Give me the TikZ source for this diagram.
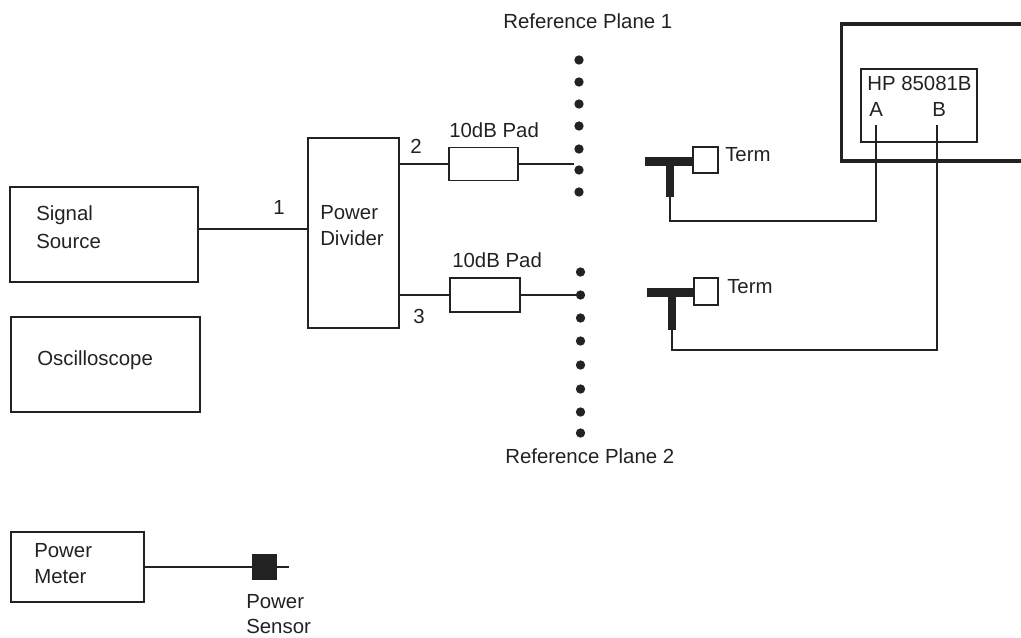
\documentclass[tikz,border=0pt]{standalone}
\usepackage{fontspec}
\setmainfont{Liberation Sans}
\usepackage{tikz}
\usepackage{xcolor}
\usetikzlibrary{positioning,calc}
\definecolor{ink}{HTML}{222222}
\tikzset{
    unit/.style 2 args={draw=ink, line width=1.4pt, minimum width=#1*0.75pt, minimum height=#2*0.75pt, inner sep=0pt},
    lbl/.style={text=ink, font=\fontsize{15.3}{17}\selectfont, inner sep=0pt, anchor=west},
    lead/.style={draw=ink, line width=1.4pt},
    cable/.style={draw=ink, line width=1.2pt},
    tee/.style={draw=ink, line width=6.5pt},
    refdot/.style={circle, fill=ink, minimum size=7pt, inner sep=0pt},
}

\begin{document}
\begin{tikzpicture}[x=0.75pt,y=-0.75pt]
    \useasboundingbox (0,0) rectangle (1021,637);

    % Left column of boxes
    \node[unit={188}{95}] (source) at (104,234.5) {};
    \node[lbl] (sourcea) at (36,215) {Signal};
    \node[lbl] (sourceb) at (36,241) {Source};
    \node[unit={189}{95}] (scope) at (105.5,364.5) {};
    \node[lbl] (scopea) at (37,360) {Oscilloscope};
    \node[unit={133}{70}] (meter) at (77.5,567) {};
    \node[lbl] (metera) at (34,551) {Power};
    \node[lbl] (meterb) at (34,577) {Meter};

    % Power sensor
    \node[fill=ink, minimum size=19pt, inner sep=0pt] (sensor) at (264.5,567) {};
    \coordinate (sensorend) at (289,567);
    \draw[lead] (meter.east) -- (sensor.west |- meter.east);
    \draw[lead] (sensor.east) -- (sensorend);
    \node[lbl] (sensora) at (246,602) {Power};
    \node[lbl] (sensorb) at (246,626) {Sensor};

    % Divider and pads
    \node[unit={91}{190}] (divider) at (353.5,233) {};
    \node[lbl] (dividera) at (320,213) {Power};
    \node[lbl] (dividerb) at (320,238) {Divider};
    \coordinate (dividerin) at (308,229);
    \draw[lead] (source.east |- dividerin) -- (dividerin);
    \node[lbl] (port1) at (273,207) {1};
    \node[lbl] (port2) at (410,146) {2};
    \node[lbl] (port3) at (413,316) {3};

    \node[unit={69}{33}] (pada) at (483.5,164) {};
    \node[lbl] (padatext) at (449,130) {10dB Pad};
    \node[unit={70}{34}] (padb) at (485,295) {};
    \node[lbl] (padbtext) at (452,260) {10dB Pad};
    \draw[lead] (divider.east |- pada.west) -- (pada.west);
    \draw[lead] (divider.east |- padb.west) -- (padb.west);

    % Reference planes
    \node[lbl] (planea) at (503,21) {Reference Plane 1};
    \node[lbl] (planeb) at (505,456) {Reference Plane 2};
    \foreach \y [count=\i] in {60,82,104,126,149,170,192}
        \node[refdot] (upper\i) at (579,\y) {};
    \foreach \y [count=\i] in {272,295,318,341,365,389,412,433}
        \node[refdot] (lower\i) at (580.5,\y) {};
    \coordinate (padaend) at (574,164);
    \draw[lead] (pada.east) -- (padaend);
    \draw[lead] (padb.east) -- (lower2);

    % Analyzer frame and test set
    \draw[ink, line width=2.8pt] (1021,24) -- (841.5,24) -- (841.5,161) -- (1021,161);
    \node[unit={116}{73}, line width=0.9pt] (testset) at (919,105.5) {};
    \node[lbl] (testseta) at (867,83) {HP 85081B};
    \node[lbl] (testsetb) at (869,109) {A};
    \node[lbl] (testsetc) at (932,109) {B};
    \coordinate (porta) at (876,125);
    \coordinate (portb) at (937,125);

    % Upper tee
    \node[unit={25}{26}, line width=0.9pt] (terma) at (705.5,160) {};
    \node[lbl] (termatext) at (725,155) {Term};
    \coordinate (teea) at (645,161.5);
    \coordinate (stema) at (670,197);
    \coordinate (cornera) at (876,221);
    \draw[tee] (teea) -- (terma.west |- teea);
    \draw[tee] (stema |- teea) -- (stema);
    \draw[cable] (stema) |- (cornera) -- (porta);

    % Lower tee
    \node[unit={24}{27}, line width=0.9pt] (termb) at (706,291.5) {};
    \node[lbl] (termbtext) at (727,287) {Term};
    \coordinate (teeb) at (647,292.5);
    \coordinate (stemb) at (672,330);
    \coordinate (cornerb) at (937,350);
    \draw[tee] (teeb) -- (termb.west |- teeb);
    \draw[tee] (stemb |- teeb) -- (stemb);
    \draw[cable] (stemb) |- (cornerb) -- (portb);
\end{tikzpicture}
\end{document}
